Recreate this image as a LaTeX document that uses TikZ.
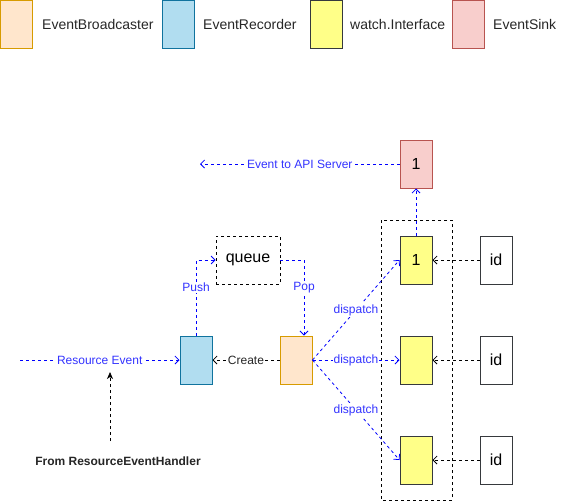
\documentclass[tikz,border=0pt]{standalone}
\usepackage{fontspec}
\setmainfont{Liberation Sans}
\usetikzlibrary{arrows.meta}
\definecolor{bcFill}{HTML}{FFE6CC}
\definecolor{bcDraw}{HTML}{D79B00}
\definecolor{recFill}{HTML}{B1DDF0}
\definecolor{recDraw}{HTML}{10739E}
\definecolor{wFill}{HTML}{FFFF88}
\definecolor{wDraw}{HTML}{36393D}
\definecolor{sinkFill}{HTML}{F8CECC}
\definecolor{sinkDraw}{HTML}{B85450}
\definecolor{lineBlue}{HTML}{0000FF}
\definecolor{txtBlue}{HTML}{3333FF}
\tikzset{
  box/.style={minimum width=32pt, minimum height=48pt, inner sep=0pt, line width=1pt, font=\fontsize{16}{19}\selectfont},
  bcbox/.style={box, draw=bcDraw, fill=bcFill},
  recbox/.style={box, draw=recDraw, fill=recFill},
  wbox/.style={box, draw=wDraw, fill=wFill},
  sinkbox/.style={box, draw=sinkDraw, fill=sinkFill},
  idbox/.style={box, draw=wDraw, fill=white},
  legtext/.style={anchor=west, inner sep=0pt, font=\fontsize{14}{17}\selectfont, text=black!85},
  dashline/.style={line width=0.8pt, dash pattern=on 3pt off 3pt},
  openarrow/.style={-{Straight Barb[length=4pt,width=8pt]}},
  blueflow/.style={dashline, draw=lineBlue, openarrow},
  blackflow/.style={dashline, draw=black, openarrow},
  bluelabel/.style={fill=white, inner sep=1pt, text=txtBlue, font=\fontsize{12}{14}\selectfont},
  blacklabel/.style={fill=white, inner sep=1pt, text=black!85, font=\fontsize{12}{14}\selectfont},
}
\begin{document}
\begin{tikzpicture}[x=1pt,y=-1pt]
\useasboundingbox (0,0) rectangle (565,501);
% legend
\node[bcbox] (lbc) at (16,24) {};
\node[legtext] (lbct) at (42,24) {EventBroadcaster};
\node[recbox] (lrec) at (178,24) {};
\node[legtext] (lrect) at (203,24) {EventRecorder};
\node[wbox] (lw) at (326,24) {};
\node[legtext] (lwt) at (350,24) {watch.Interface};
\node[sinkbox] (lsink) at (468,24) {};
\node[legtext] (lsinkt) at (493,24) {EventSink};
% container
\draw[dashline, draw=black] (381,220) rectangle (452,500);
% main nodes
\node[sinkbox] (sink) at (416,164) {1};
\node[wbox] (w1) at (416,260) {1};
\node[wbox] (w2) at (416,360) {};
\node[wbox] (w3) at (416,460) {};
\node[idbox] (id1) at (496,260) {id};
\node[idbox] (id2) at (496,360) {id};
\node[idbox] (id3) at (496,460) {id};
\node[recbox] (rec) at (196,360) {};
\node[bcbox] (bc) at (296,360) {};
\node[box, minimum width=64pt, draw=black, dashline, fill=white] (queue) at (248,260) {queue};
\coordinate (api) at (200,164);
\coordinate (resin) at (20,360);
\coordinate (h1) at (110,441);
\coordinate (h2) at (110,372);
\node[font=\bfseries\fontsize{12}{14}\selectfont, text=black!85, inner sep=0pt] (handler) at (118,461) {From ResourceEventHandler};
% connectors
\draw[blueflow] (sink.west) -- node[bluelabel] {Event to API Server} (api);
\draw[blueflow] (w1.north) -- (sink.south);
\draw[blackflow] (id1.west) -- (w1.east);
\draw[blackflow] (id2.west) -- (w2.east);
\draw[blackflow] (id3.west) -- (w3.east);
\draw[blueflow] (resin) -- node[bluelabel] {Resource Event} (rec.west);
\draw[blackflow] (bc.west) -- node[blacklabel] {Create} (rec.east);
\draw[blueflow] (rec.north) |- node[bluelabel, pos=0.32] {Push} (queue.west);
\draw[blueflow] (queue.east) -| node[bluelabel, pos=0.68] {Pop} ([xshift=8pt]bc.north);
\draw[blueflow] (bc.east) -- node[bluelabel] {dispatch} (w1.west);
\draw[blueflow] (bc.east) -- node[bluelabel] {dispatch} (w2.west);
\draw[blueflow] (bc.east) -- node[bluelabel] {dispatch} (w3.west);
\draw[dashline, draw=black, -{Stealth[length=7pt,width=6pt,inset=2pt]}] (h1) -- (h2);
\end{tikzpicture}
\end{document}
